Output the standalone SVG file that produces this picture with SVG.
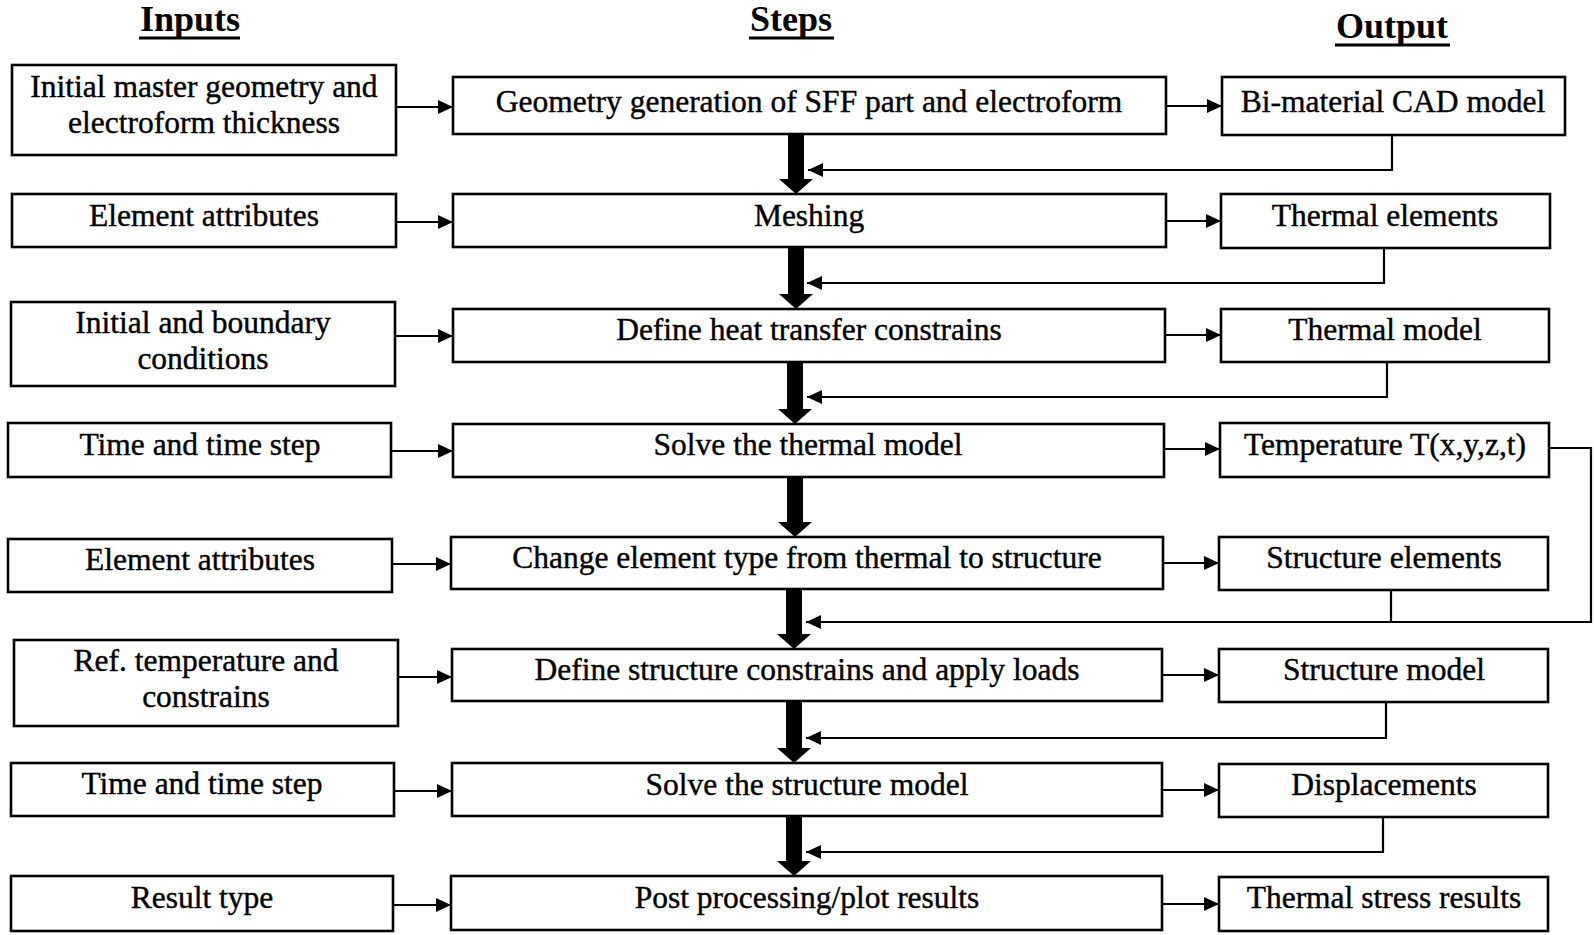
<svg xmlns="http://www.w3.org/2000/svg" width="1594" height="935" viewBox="0 0 1594 935">
  <style>
    .box { fill: #ffffff; stroke: #000000; stroke-width: 2.6; }
    .lbl { font-family: "Liberation Serif", "Times New Roman", serif; font-size: 31.5px; fill: #000000; text-anchor: middle; stroke: #000000; stroke-width: 0.4; }
    .hdr { font-family: "Liberation Serif", "Times New Roman", serif; font-size: 36px; font-weight: bold; fill: #000000; text-anchor: middle; }
    .uline { stroke: #000000; stroke-width: 3.2; }
    .thin { fill: none; stroke: #000000; stroke-width: 2.2; }
    .arr { fill: none; stroke: #000000; stroke-width: 2.2; marker-end: url(#head); }
    .thick { fill: none; stroke: #000000; stroke-width: 16; marker-end: url(#bighead); }
  </style>
  <defs>
    <marker id="head" markerUnits="userSpaceOnUse" viewBox="0 0 15 14" markerWidth="15" markerHeight="14" refX="15" refY="7" orient="auto">
      <path d="M0,0 L15,7 L0,14 Z" fill="#000000"/>
    </marker>
    <marker id="bighead" markerUnits="userSpaceOnUse" viewBox="0 0 15 34" markerWidth="15" markerHeight="34" refX="0" refY="17" orient="auto">
      <path d="M0,0 L15,17 L0,34 Z" fill="#000000"/>
    </marker>
  </defs>
  <rect x="0" y="0" width="1594" height="935" fill="#ffffff"/>

  <!-- column headings -->
  <g id="headings">
    <text class="hdr" x="190" y="31">Inputs</text>
    <line class="uline" x1="139" y1="38" x2="240" y2="38"/>
    <text class="hdr" x="791" y="31">Steps</text>
    <line class="uline" x1="749" y1="38" x2="834" y2="38"/>
    <text class="hdr" x="1392" y="38">Output</text>
    <line class="uline" x1="1335" y1="45" x2="1450" y2="45"/>
  </g>

  <!-- connectors -->
  <g id="connectors">
    <!-- inputs to steps -->
    <line class="arr" x1="396" y1="107" x2="453" y2="107"/>
    <line class="arr" x1="396" y1="222" x2="453" y2="222"/>
    <line class="arr" x1="395" y1="336" x2="453" y2="336"/>
    <line class="arr" x1="391" y1="451" x2="453" y2="451"/>
    <line class="arr" x1="392" y1="564" x2="451" y2="564"/>
    <line class="arr" x1="398" y1="677" x2="452" y2="677"/>
    <line class="arr" x1="394" y1="791" x2="452" y2="791"/>
    <line class="arr" x1="393" y1="905" x2="451" y2="905"/>
    <!-- steps to outputs -->
    <line class="arr" x1="1166" y1="106" x2="1222" y2="106"/>
    <line class="arr" x1="1166" y1="221" x2="1221" y2="221"/>
    <line class="arr" x1="1165" y1="335" x2="1221" y2="335"/>
    <line class="arr" x1="1164" y1="449" x2="1220" y2="449"/>
    <line class="arr" x1="1163" y1="563" x2="1219" y2="563"/>
    <line class="arr" x1="1162" y1="675" x2="1219" y2="675"/>
    <line class="arr" x1="1162" y1="790" x2="1219" y2="790"/>
    <line class="arr" x1="1162" y1="904" x2="1219" y2="904"/>
    <!-- main flow between steps -->
    <line class="thick" x1="796" y1="134" x2="796" y2="179"/>
    <line class="thick" x1="796" y1="247" x2="796" y2="294"/>
    <line class="thick" x1="795" y1="362" x2="795" y2="409"/>
    <line class="thick" x1="795" y1="477" x2="795" y2="522"/>
    <line class="thick" x1="794" y1="589" x2="794" y2="634"/>
    <line class="thick" x1="794" y1="701" x2="794" y2="748"/>
    <line class="thick" x1="794" y1="816" x2="794" y2="861"/>
    <!-- outputs fed back into the flow -->
    <polyline class="arr" points="1392,135 1392,170 808,170"/>
    <polyline class="arr" points="1384,248 1384,283 807,283"/>
    <polyline class="arr" points="1387,362 1387,397 807,397"/>
    <polyline class="arr" points="1549,448 1591,448 1591,622 806,622"/>
    <line class="thin" x1="1391" y1="590" x2="1391" y2="622"/>
    <polyline class="arr" points="1386,702 1386,738 806,738"/>
    <polyline class="arr" points="1383,817 1383,852 806,852"/>
  </g>

  <!-- inputs -->
  <g id="in1"><rect class="box" x="12" y="65" width="384" height="90"/>
    <text class="lbl" x="204" y="97">Initial master geometry and</text>
    <text class="lbl" x="204" y="133">electroform thickness</text></g>
  <g id="in2"><rect class="box" x="12" y="194" width="384" height="53"/>
    <text class="lbl" x="204" y="226">Element attributes</text></g>
  <g id="in3"><rect class="box" x="11" y="302" width="384" height="84"/>
    <text class="lbl" x="203" y="333">Initial and boundary</text>
    <text class="lbl" x="203" y="369">conditions</text></g>
  <g id="in4"><rect class="box" x="8" y="423" width="383" height="54"/>
    <text class="lbl" x="200" y="455">Time and time step</text></g>
  <g id="in5"><rect class="box" x="8" y="539" width="384" height="53"/>
    <text class="lbl" x="200" y="570">Element attributes</text></g>
  <g id="in6"><rect class="box" x="14" y="640" width="384" height="86"/>
    <text class="lbl" x="206" y="671">Ref. temperature and</text>
    <text class="lbl" x="206" y="707">constrains</text></g>
  <g id="in7"><rect class="box" x="11" y="763" width="383" height="53"/>
    <text class="lbl" x="202" y="794">Time and time step</text></g>
  <g id="in8"><rect class="box" x="11" y="876" width="382" height="55"/>
    <text class="lbl" x="202" y="908">Result type</text></g>

  <!-- steps -->
  <g id="step1"><rect class="box" x="453" y="77" width="713" height="57"/>
    <text class="lbl" x="809" y="112">Geometry generation of SFF part and electroform</text></g>
  <g id="step2"><rect class="box" x="453" y="194" width="713" height="53"/>
    <text class="lbl" x="809" y="226">Meshing</text></g>
  <g id="step3"><rect class="box" x="453" y="309" width="712" height="53"/>
    <text class="lbl" x="809" y="340">Define heat transfer constrains</text></g>
  <g id="step4"><rect class="box" x="453" y="424" width="711" height="53"/>
    <text class="lbl" x="808" y="455">Solve the thermal model</text></g>
  <g id="step5"><rect class="box" x="451" y="537" width="712" height="52"/>
    <text class="lbl" x="807" y="568">Change element type from thermal to structure</text></g>
  <g id="step6"><rect class="box" x="452" y="649" width="710" height="52"/>
    <text class="lbl" x="807" y="680">Define structure constrains and apply loads</text></g>
  <g id="step7"><rect class="box" x="452" y="763" width="710" height="53"/>
    <text class="lbl" x="807" y="795">Solve the structure model</text></g>
  <g id="step8"><rect class="box" x="451" y="876" width="711" height="54"/>
    <text class="lbl" x="807" y="908">Post processing/plot results</text></g>

  <!-- outputs -->
  <g id="out1"><rect class="box" x="1222" y="77" width="343" height="58"/>
    <text class="lbl" x="1393" y="112">Bi-material CAD model</text></g>
  <g id="out2"><rect class="box" x="1221" y="194" width="329" height="54"/>
    <text class="lbl" x="1385" y="226">Thermal elements</text></g>
  <g id="out3"><rect class="box" x="1221" y="309" width="328" height="53"/>
    <text class="lbl" x="1385" y="340">Thermal model</text></g>
  <g id="out4"><rect class="box" x="1220" y="423" width="329" height="54"/>
    <text class="lbl" x="1385" y="455">Temperature T(x,y,z,t)</text></g>
  <g id="out5"><rect class="box" x="1219" y="537" width="329" height="53"/>
    <text class="lbl" x="1384" y="568">Structure elements</text></g>
  <g id="out6"><rect class="box" x="1219" y="649" width="329" height="53"/>
    <text class="lbl" x="1384" y="680">Structure model</text></g>
  <g id="out7"><rect class="box" x="1219" y="764" width="329" height="53"/>
    <text class="lbl" x="1384" y="795">Displacements</text></g>
  <g id="out8"><rect class="box" x="1219" y="877" width="329" height="54"/>
    <text class="lbl" x="1384" y="908">Thermal stress results</text></g>
</svg>
